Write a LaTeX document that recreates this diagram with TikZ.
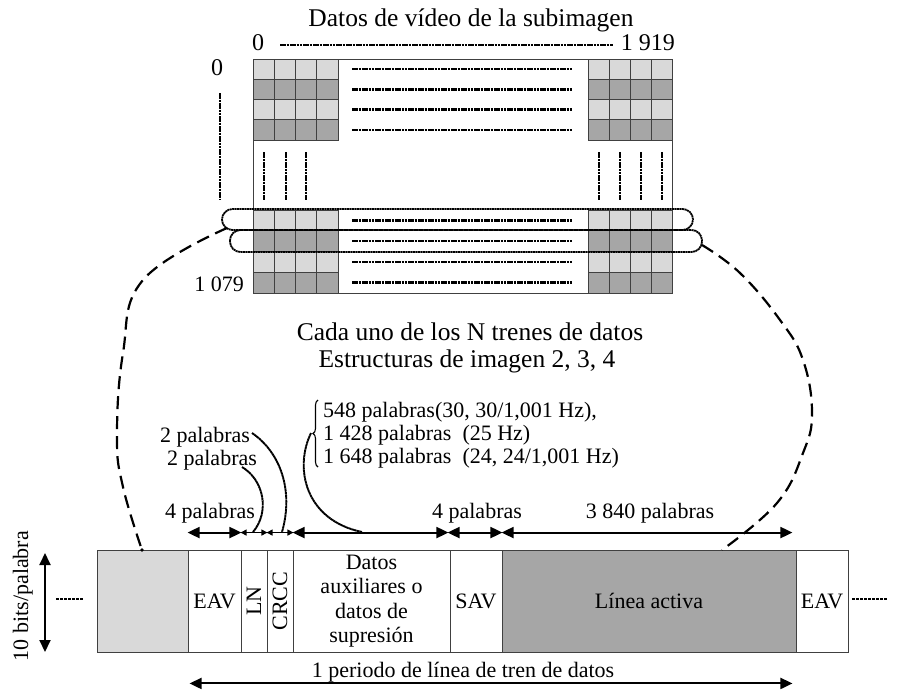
\documentclass[tikz,border=0pt]{standalone}
\usepackage{fontspec}
\setmainfont{Liberation Serif}
\usetikzlibrary{arrows.meta,decorations.pathreplacing,calc}
\definecolor{lgray}{HTML}{D9D9D9}
\definecolor{dgray}{HTML}{A6A6A6}
\definecolor{edge}{HTML}{404040}
\begin{document}
\begin{tikzpicture}[x=1pt,y=-1pt,
 txt/.style={font=\fontsize{22}{24.5}\selectfont, inner sep=0pt},
 ntxt/.style={font=\fontsize{24}{26}\selectfont, inner sep=0pt},
 htxt/.style={font=\fontsize{25.5}{28}\selectfont, inner sep=0pt},
 seg/.style={draw=edge, line width=0.9pt, minimum height=102pt, inner sep=0pt, font=\fontsize{22}{24.5}\selectfont, align=center},
 cellbox/.style={draw=edge, line width=0.9pt},
 dotl/.style={line width=2.5pt, dash pattern=on 2.6pt off 0.7pt, black},
 ovalline/.style={line width=1.8pt, dash pattern=on 2pt off 0.5pt, black, rounded corners=10.5pt},
 bigdash/.style={line width=2.2pt, dash pattern=on 13pt off 7pt},
 dbl/.style={line width=2pt, {Triangle[length=12pt,width=11pt]}-{Triangle[length=12pt,width=11pt]}},
 sdbl/.style={line width=1.2pt, {Triangle[length=6pt,width=6pt]}-{Triangle[length=6pt,width=6pt]}},
 lead/.style={line width=1.9pt, dash pattern=on 2.5pt off 0.4pt},
]
\useasboundingbox (0,0) rectangle (899,691);

% ---------- picture grid ----------
\fill[white] (253,59) rectangle (672,293);
\foreach \i/\col in {0/lgray,1/dgray,2/lgray,3/dgray}{
  \foreach \j in {0,...,3}{
    \filldraw[cellbox, fill=\col] ({253+21.25*\j},{59+20.25*\i}) rectangle ++(21.25,20.25);
    \filldraw[cellbox, fill=\col] ({588+21*\j},{59+20.25*\i}) rectangle ++(21,20.25);
    \filldraw[cellbox, fill=\col] ({253+21.25*\j},{210+20.75*\i}) rectangle ++(21.25,20.75);
    \filldraw[cellbox, fill=\col] ({588+21*\j},{210+20.75*\i}) rectangle ++(21,20.75);
  }
  \draw[dotl] (352,{69.1+20.25*\i}) -- (572,{69.1+20.25*\i});
  \draw[dotl] (352,{220.4+20.75*\i}) -- (572,{220.4+20.75*\i});
}
\draw[cellbox] (253,59) rectangle (672,293);
\foreach \x in {264,286,306,599,620,641,662}{
  \draw[dotl] (\x,152) -- (\x,200);
}
\draw[dotl] (220,93) -- (220,200);
\draw[dotl] (280,45) -- (613,45);

% ---------- ovals ----------
\draw[ovalline] (222,209) rectangle (693,230);
\draw[ovalline] (230,230) rectangle (702,252);

% ---------- labels of grid ----------
\node[htxt, anchor=base] (title) at (471,26) {Datos de vídeo de la subimagen};
\node[ntxt, anchor=base] (c0) at (258,50) {0};
\node[ntxt, anchor=base east] (c1919) at (675,50) {1 919};
\node[ntxt, anchor=base] (r0) at (217,75) {0};
\node[txt, anchor=base east] (r1079) at (244,291) {1 079};
\node[htxt, anchor=base] (cada) at (470,340) {Cada uno de los N trenes de datos};
\node[htxt, anchor=base] (estr) at (467,367) {Estructuras de imagen 2, 3, 4};

% ---------- data line ----------
\node[seg, fill=lgray, minimum width=91pt] (s0) at (142.5,601) {};
\node[seg, minimum width=53pt] (eav) at (214.5,601) {EAV};
\node[seg, minimum width=26pt] (ln) at (254,601) {\rotatebox{90}{LN}};
\node[seg, minimum width=26pt] (crcc) at (280,601) {\rotatebox{90}{CRCC}};
\node[seg, minimum width=157pt] (aux) at (371.5,601) {Datos\\auxiliares o\\datos de\\supresión};
\node[seg, minimum width=52pt] (sav) at (476,601) {SAV};
\node[seg, fill=dgray, minimum width=294pt] (act) at (649,601) {Línea activa};
\node[seg, minimum width=52pt] (eav2) at (822,601) {EAV};

\draw[line width=2.4pt, dash pattern=on 3pt off 1pt] (56,599) -- (83,599);
\draw[line width=2.4pt, dash pattern=on 3pt off 1pt] (852,599) -- (887,599);

% ---------- arrows ----------
\draw[dbl] ([yshift=17pt]eav.north west) -- ([yshift=17pt]eav.north east);
\draw[sdbl] ([yshift=17pt]ln.north west) -- ([yshift=17pt]ln.north east);
\draw[sdbl] ([yshift=17pt]crcc.north west) -- ([yshift=17pt]crcc.north east);
\draw[dbl] ([yshift=17pt]aux.north west) -- ([yshift=17pt,xshift=-2pt]aux.north east);
\draw[dbl] ([yshift=17pt,xshift=-2pt]sav.north west) -- ([yshift=17pt]sav.north east);
\draw[dbl] ([yshift=17pt]act.north west) -- ([yshift=17pt,xshift=-4pt]act.north east);
\draw[dbl] ([yshift=-31pt,xshift=2pt]eav.south west) -- ([yshift=-31pt,xshift=-4pt]act.south east);
\draw[dbl] (45,553) -- (45,652);

\node[txt, anchor=base] (p4a) at (210,518) {4 palabras};
\node[txt, anchor=base] (p4b) at (477,518) {4 palabras};
\node[txt, anchor=base] (p3840) at (650,518) {3 840 palabras};
\node[txt, anchor=base] (period) at (463,677) {1 periodo de línea de tren de datos};
\node[txt, rotate=90, anchor=base] (bits) at (28,596) {10 bits/palabra};

% ---------- annotations ----------
\node[txt, anchor=base] (p2a) at (205,442) {2 palabras};
\node[txt, anchor=base] (p2b) at (212,465) {2 palabras};
\node[txt, anchor=base west] (l1) at (323,417) {548 palabras(30, 30/1,001 Hz),};
\node[txt, anchor=base west] (l2) at (323,440) {1 428 palabras\ \ (25 Hz)};
\node[txt, anchor=base west] (l3) at (323,463) {1 648 palabras\ \ (24, 24/1,001 Hz)};
\draw[line width=1.1pt, decorate, decoration={brace, amplitude=5pt}] (318,467) -- (318,400);

\coordinate (t1) at (282,532);
\coordinate (t2) at (253,532);
\coordinate (t3) at (362,532);
\draw[lead] (252,433) .. controls (280,452) and (294,490) .. (t1);
\draw[lead] (242,467) .. controls (264,480) and (270,512) .. (t2);
\draw[lead] (311,433) .. controls (294,468) and (305,520) .. (t3);

% ---------- big dashed curves ----------
\coordinate (la) at (227,228);
\coordinate (lb) at (142,550);
\coordinate (ra) at (702,245);
\coordinate (rb) at (722,550);
\draw[bigdash] plot[smooth, tension=0.7] coordinates {(la) (143,280) (123,353) (117,437) (123,487) (lb)};
\draw[bigdash] plot[smooth, tension=0.7] coordinates {(ra) (740,273) (780,320) (803,360) (812,413) (803,453) (777,503) (rb)};
\fill (lb) circle (1.8pt);
\end{tikzpicture}
\end{document}
